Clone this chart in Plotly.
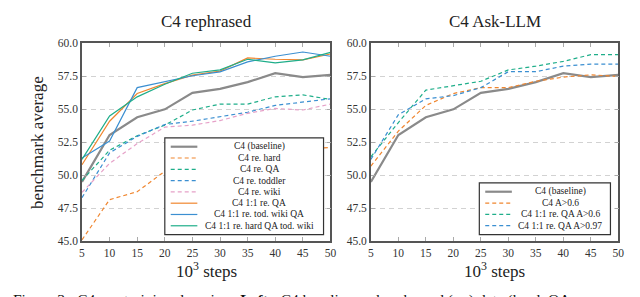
import plotly.graph_objects as go

# ---------------- data ----------------
steps = [5, 10, 15, 20, 25, 30, 35, 40, 45, 50]

c4_baseline = [49.5, 53.05, 54.4, 55.0, 56.25, 56.55, 57.07, 57.74, 57.44, 57.62]
# left panel: C4 rephrased
re_hard = [45.1, 48.15, 48.75, 50.3, 50.9, 51.3, 51.6, 51.8, 52.0, 52.1]
re_qa = [49.6, 51.9, 53.0, 53.8, 54.95, 55.4, 55.4, 55.95, 56.1, 55.75]
re_toddler = [48.3, 51.7, 52.95, 53.85, 54.1, 54.45, 54.78, 55.3, 55.55, 55.8]
re_wiki = [48.7, 50.9, 52.4, 53.65, 53.8, 54.15, 54.7, 55.07, 54.95, 55.4]
mix_qa = [50.8, 54.1, 56.2, 56.95, 57.6, 57.9, 58.9, 58.8, 58.76, 59.2]
mix_tod_wiki_qa = [51.3, 52.6, 56.65, 57.1, 57.55, 57.84, 58.6, 59.03, 59.35, 59.03]
mix_hard_qa_tod_wiki = [51.2, 54.5, 55.95, 56.9, 57.74, 58.0, 58.8, 58.52, 58.76, 59.32]
# right panel: C4 Ask-LLM
ask_a06 = [50.7, 53.35, 55.3, 56.2, 56.65, 56.65, 57.13, 57.45, 57.62, 57.5]
ask_qa_a06 = [51.4, 54.0, 56.46, 56.8, 57.13, 57.99, 58.28, 58.64, 59.15, 59.15]
ask_qa_a097 = [51.2, 54.6, 55.8, 56.04, 56.65, 57.86, 57.86, 58.28, 58.43, 58.43]

x_ticks = [5, 10, 15, 20, 25, 30, 35, 40, 45, 50]
y_ticks = [45.0, 47.5, 50.0, 52.5, 55.0, 57.5, 60.0]

panel_titles = ["C4 rephrased", "C4 Ask-LLM"]
x_title = "10<sup>3</sup> steps"
y_title = "benchmark average"

GRAY = "#8a8a8a"
ORANGE = "#f0862f"
GREEN = "#1fae8a"
BLUE = "#3b8fd1"
PINK = "#e6a1c8"
DASH = "4px,3px"

left_series = [
    ("C4 (baseline)", c4_baseline, GRAY, "solid", 2.2),
    ("C4 re. hard", re_hard, ORANGE, DASH, 1.2),
    ("C4 re. QA", re_qa, GREEN, DASH, 1.2),
    ("C4 re. toddler", re_toddler, BLUE, DASH, 1.2),
    ("C4 re. wiki", re_wiki, PINK, DASH, 1.2),
    ("C4 1:1 re. QA", mix_qa, ORANGE, "solid", 1.2),
    ("C4 1:1 re. tod. wiki QA", mix_tod_wiki_qa, BLUE, "solid", 1.2),
    ("C4 1:1 re. hard QA tod. wiki", mix_hard_qa_tod_wiki, GREEN, "solid", 1.2),
]
right_series = [
    ("C4 (baseline)", c4_baseline, GRAY, "solid", 2.2),
    ("C4 A>0.6", ask_a06, ORANGE, DASH, 1.2),
    ("C4 1:1 re. QA A>0.6", ask_qa_a06, GREEN, DASH, 1.2),
    ("C4 1:1 re. QA A>0.97", ask_qa_a097, BLUE, DASH, 1.2),
]

W, H = 640, 297
FONT = "Liberation Serif"


def px(x):
    return x / W


def py(y):
    return 1 - y / H


fig = go.Figure()

# draw order: baseline first, then others, as reference
for name, vals, col, dash, w in left_series:
    fig.add_trace(go.Scatter(x=steps, y=vals, mode="lines", name=name,
                             line=dict(color=col, dash=dash, width=w),
                             xaxis="x", yaxis="y", showlegend=False))
for name, vals, col, dash, w in right_series:
    fig.add_trace(go.Scatter(x=steps, y=vals, mode="lines", name=name,
                             line=dict(color=col, dash=dash, width=w),
                             xaxis="x2", yaxis="y2", showlegend=False))

top, bottom = 30.7, 236.7
panels = [(72, 324), (365, 616)]

axis_common = dict(showline=True, linecolor="#555555", linewidth=1.5,
                   mirror="ticks", ticks="inside", ticklen=4, tickcolor="#aaaaaa",
                   tickfont=dict(family=FONT, size=11.5, color="#333333"),
                   zeroline=False)

layout = dict(width=W, height=H, autosize=False,
              margin=dict(l=0, r=0, t=0, b=0),
              paper_bgcolor="white", plot_bgcolor="white",
              font=dict(family=FONT, color="#222222"),
              showlegend=False)

for i, (l, r) in enumerate(panels):
    sfx = "" if i == 0 else str(i + 1)
    layout["xaxis" + sfx] = dict(domain=[px(l), px(r)], range=[5, 50],
                                 tickvals=x_ticks, showgrid=False,
                                 anchor="y" + sfx, **axis_common)
    layout["yaxis" + sfx] = dict(domain=[py(bottom), py(top)], range=[45, 60],
                                 tickvals=y_ticks, tickformat=".1f",
                                 showgrid=True, gridcolor="#d2d2d2", gridwidth=1,
                                 griddash="5px,4px",
                                 anchor="x" + sfx, **axis_common)

fig.update_layout(**layout)

annotations = []
shapes = []
for i, (l, r) in enumerate(panels):
    cx = (l + r) / 2
    annotations.append(dict(text=panel_titles[i], x=px(cx), y=py(8), xref="paper", yref="paper",
                            xanchor="center", yanchor="middle", showarrow=False,
                            font=dict(family=FONT, size=17, color="#222222")))
    annotations.append(dict(text=x_title, x=px(cx), y=py(267), xref="paper", yref="paper",
                            xanchor="center", yanchor="middle", showarrow=False,
                            font=dict(family=FONT, size=17, color="#222222")))

annotations.append(dict(text=y_title, x=px(27), y=py((top + bottom) / 2), xref="paper", yref="paper",
                        xanchor="center", yanchor="middle", showarrow=False, textangle=-90,
                        font=dict(family=FONT, size=17, color="#222222")))

# caption (cut at bottom of the image)
annotations.append(dict(text="Figure 3:  C4 pre-training domains.  <b>Left:</b>  C4 baseline and rephrased (re.) data (hard, QA",
                        x=0, y=py(287), xref="paper", yref="paper",
                        xanchor="left", yanchor="top", showarrow=False,
                        font=dict(family=FONT, size=15.5, color="#111111")))


def add_legend(series, box, row0, row_step, sw, text_cx):
    x0, x1, y0, y1 = box
    shapes.append(dict(type="rect", xref="paper", yref="paper", layer="above",
                       x0=px(x0), x1=px(x1), y0=py(y0), y1=py(y1),
                       fillcolor="white", line=dict(color="#333333", width=1.2)))
    for k, (name, vals, col, dash, w) in enumerate(series):
        yy = row0 + k * row_step
        shapes.append(dict(type="line", xref="paper", yref="paper", layer="above",
                           x0=px(sw[0]), x1=px(sw[1]), y0=py(yy), y1=py(yy),
                           line=dict(color=col, dash=dash, width=w)))
        annotations.append(dict(text=name.replace(">", "&gt;"), x=px(text_cx), y=py(yy),
                                xref="paper", yref="paper",
                                xanchor="center", yanchor="middle", showarrow=False,
                                font=dict(family=FONT, size=9.5, color="#222222")))


add_legend(left_series, (156, 317, 129, 230), 138.3, 11.77, (162, 189), 252)
add_legend(right_series, (475, 608, 176, 230), 185.2, 11.8, (481, 508), 557)

fig.update_layout(annotations=annotations, shapes=shapes)
fig.write_html("out.html")
